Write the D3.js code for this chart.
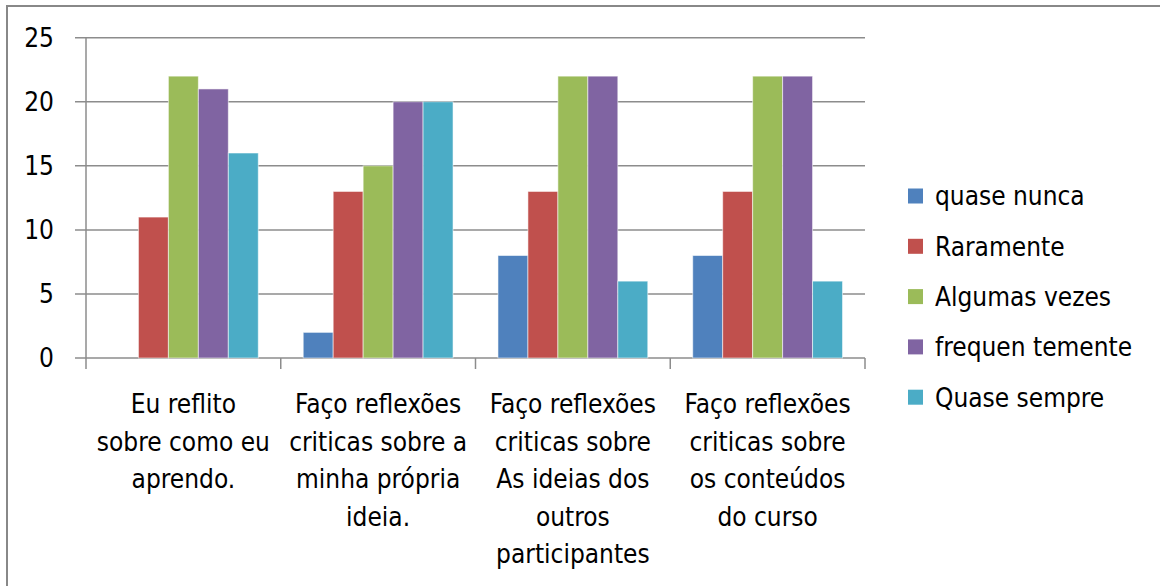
<!DOCTYPE html>
<html>
<head>
<meta charset="utf-8">
<script src="https://cdn.jsdelivr.net/npm/d3@7"></script>
<style>
  html, body { margin: 0; padding: 0; background: #fff; }
  svg { display: block; }
  text { font-family: "DejaVu Sans Condensed", "Liberation Sans Narrow", "Open Sans", sans-serif; fill: #000; }
</style>
</head>
<body>
<svg id="chart" width="1160" height="586"></svg>
<script>
// ---- data ----
const categories = ["cat1", "cat2", "cat3", "cat4"];
const categoryLabels = [
  ["Eu reflito", "sobre como eu", "aprendo."],
  ["Faço reflexões", "criticas sobre a", "minha própria", "ideia."],
  ["Faço reflexões", "criticas sobre", "As ideias dos", "outros", "participantes"],
  ["Faço reflexões", "criticas sobre", "os conteúdos", "do curso"]
];
const seriesNames = ["quase nunca", "Raramente", "Algumas vezes", "frequen temente", "Quase sempre"];
const seriesColors = ["#4F81BD", "#C0504D", "#9BBB59", "#8064A2", "#4BACC6"];
const quaseNunca    = [0, 2, 8, 8];
const raramente     = [11, 13, 13, 13];
const algumasVezes  = [22, 15, 22, 22];
const frequentemente = [21, 20, 22, 22];
const quaseSempre   = [16, 20, 6, 6];
const seriesValues = [quaseNunca, raramente, algumasVezes, frequentemente, quaseSempre];
const yTicks = [0, 5, 10, 15, 20, 25];

// ---- layout ----
(function () {
const svg = d3.select("#chart");
const pLeft = 86, pRight = 865, pTop = 37.7, pBottom = 358;
const fontSize = 26;

// outer frame (top and left edges visible)
svg.append("path")
  .attr("d", "M7,1000 L7,6 L1200,6")
  .attr("fill", "none").attr("stroke", "#888").attr("stroke-width", 2);

const x = d3.scaleBand().domain(categories).range([pLeft, pRight]).padding(0);
const y = d3.scaleLinear().domain([0, 25]).range([pBottom, pTop]);
const bw = x.bandwidth() / 6.5;
const xs = d3.scaleBand().domain(seriesNames).range([0.75 * bw, 5.75 * bw]).padding(0);

// gridlines
svg.append("g").selectAll("line").data(yTicks).join("line")
  .attr("x1", pLeft - 11).attr("x2", pRight)
  .attr("y1", d => y(d)).attr("y2", d => y(d))
  .attr("stroke", "#8c8c8c").attr("stroke-width", 1.5);

// y axis line
svg.append("line").attr("x1", pLeft).attr("x2", pLeft)
  .attr("y1", y(25)).attr("y2", y(0))
  .attr("stroke", "#8c8c8c").attr("stroke-width", 1.5);

// category ticks
const tickXs = categories.map(c => x(c)).concat([pRight]);
svg.append("g").selectAll("line").data(tickXs).join("line")
  .attr("x1", d => d).attr("x2", d => d)
  .attr("y1", pBottom).attr("y2", pBottom + 11)
  .attr("stroke", "#8c8c8c").attr("stroke-width", 1.5);

// bars
seriesNames.forEach((s, si) => {
  svg.append("g").selectAll("rect").data(categories).join("rect")
    .attr("x", c => x(c) + xs(s))
    .attr("width", xs.bandwidth())
    .attr("y", (c, i) => y(seriesValues[si][i]))
    .attr("height", (c, i) => y(0) - y(seriesValues[si][i]))
    .attr("fill", seriesColors[si])
    .attr("stroke", "rgba(255,255,255,0.55)").attr("stroke-width", 1);
});

// y tick labels
svg.append("g").selectAll("text").data(yTicks).join("text")
  .attr("x", 54).attr("y", d => y(d))
  .attr("dy", "0.36em")
  .attr("text-anchor", "end")
  .attr("font-size", fontSize)
  .text(d => d);

// category labels
categories.forEach((c, i) => {
  const t = svg.append("text")
    .attr("text-anchor", "middle")
    .attr("font-size", fontSize);
  categoryLabels[i].forEach((line, li) => {
    t.append("tspan")
      .attr("x", x(c) + x.bandwidth() / 2)
      .attr("y", 413 + li * 37.5)
      .text(line);
  });
});

// legend
const legend = svg.append("g");
seriesNames.forEach((s, i) => {
  const cy = 196 + i * 50.3;
  legend.append("rect").attr("x", 908).attr("y", cy - 7.5)
    .attr("width", 15).attr("height", 15).attr("fill", seriesColors[i]);
  legend.append("text").attr("x", 935).attr("y", cy).attr("dy", "0.36em")
    .attr("font-size", fontSize).text(s);
});
})();
</script>
</body>
</html>
